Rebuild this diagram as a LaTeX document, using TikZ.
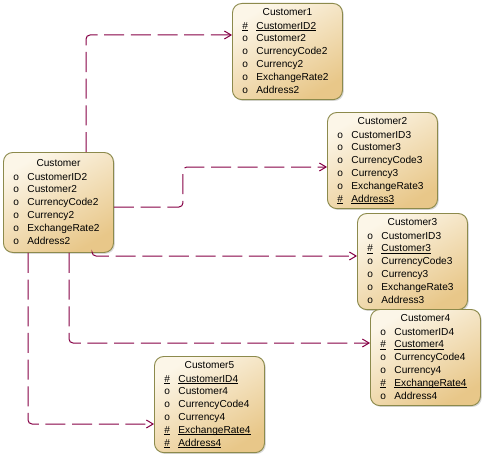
\documentclass[tikz,border=0pt]{standalone}
\usepackage{fontspec}
\setmainfont{Liberation Sans}
\usepackage{tikz}
\usetikzlibrary{arrows.meta,positioning,calc,shadows}
\usepackage{xcolor}
\definecolor{linkred}{HTML}{850045}
\definecolor{boxlight}{HTML}{FCF6E8}
\definecolor{boxdark}{HTML}{E8C789}
\definecolor{boxline}{HTML}{8C8A4C}
\newcommand{\ulin}[1]{\setbox0\hbox{#1}\rlap{\rule[-1.3pt]{\wd0}{0.55pt}}\box0}
\newcommand{\fld}[1]{\makebox[10.5pt][l]{o}#1\strut}
\newcommand{\keyfld}[1]{\makebox[10.5pt][l]{\ulin{\#}}\ulin{#1}\strut}
\newcommand{\ttl}[1]{\makebox[\linewidth][c]{#1}\strut}

\begin{document}
\begin{tikzpicture}[x=0.75pt, y=-0.75pt, >={Straight Barb[length=5pt,width=6pt]},
  entity/.style={draw=boxline, line width=0.7pt, rounded corners=7pt,
    top color=boxlight, bottom color=boxdark, shading angle=30,
    drop shadow={shadow xshift=1pt, shadow yshift=-1pt, opacity=0.3},
    anchor=north west, text width=67.5pt, inner xsep=7.5pt, inner ysep=2pt,
    align=left, font=\fontsize{7.6}{9.6}\selectfont},
  link/.style={draw=linkred, line width=0.75pt, dash pattern=on 15pt off 5pt,
    rounded corners=3pt, ->}]
  \useasboundingbox (0,0) rectangle (484,460);

  % Define nodes
  \node[entity, minimum height=75pt] (cust) at (3,152) {\ttl{Customer}\\[0.9pt]
    \fld{CustomerID2}\\ \fld{Customer2}\\ \fld{CurrencyCode2}\\
    \fld{Currency2}\\ \fld{ExchangeRate2}\\ \fld{Address2}};
  \node[entity] (cust1) at (232,3) {\ttl{Customer1}\\[0.9pt]
    \keyfld{CustomerID2}\\ \fld{Customer2}\\ \fld{CurrencyCode2}\\
    \fld{Currency2}\\ \fld{ExchangeRate2}\\ \fld{Address2}};
  \node[entity] (cust2) at (327,112) {\ttl{Customer2}\\[0.9pt]
    \fld{CustomerID3}\\ \fld{Customer3}\\ \fld{CurrencyCode3}\\
    \fld{Currency3}\\ \fld{ExchangeRate3}\\ \keyfld{Address3}};
  \node[entity] (cust3) at (357,213) {\ttl{Customer3}\\[0.9pt]
    \fld{CustomerID3}\\ \keyfld{Customer3}\\ \fld{CurrencyCode3}\\
    \fld{Currency3}\\ \fld{ExchangeRate3}\\ \fld{Address3}};
  \node[entity] (cust4) at (370,309) {\ttl{Customer4}\\[0.9pt]
    \fld{CustomerID4}\\ \keyfld{Customer4}\\ \fld{CurrencyCode4}\\
    \fld{Currency4}\\ \keyfld{ExchangeRate4}\\ \fld{Address4}};
  \node[entity] (cust5) at (154,356) {\ttl{Customer5}\\[0.9pt]
    \keyfld{CustomerID4}\\ \fld{Customer4}\\ \fld{CurrencyCode4}\\
    \fld{Currency4}\\ \keyfld{ExchangeRate4}\\ \keyfld{Address4}};

  % Draw arrows
  \draw[link] ($(cust.north west)+(83,0)$) |- ($(cust1.north west)+(0,32)$);
  \draw[link] ($(cust.north east)+(0,55)$) -- ++(69,0) |- ($(cust2.north west)+(0,55)$);
  \draw[link] ($(cust.south west)+(89,0)$) |- ($(cust3.north west)+(0,43)$);
  \draw[link] ($(cust.south west)+(66,0)$) |- ($(cust4.north west)+(0,34)$);
  \draw[link] ($(cust.south west)+(25,0)$) |- ($(cust5.north west)+(0,68)$);
\end{tikzpicture}
\end{document}
